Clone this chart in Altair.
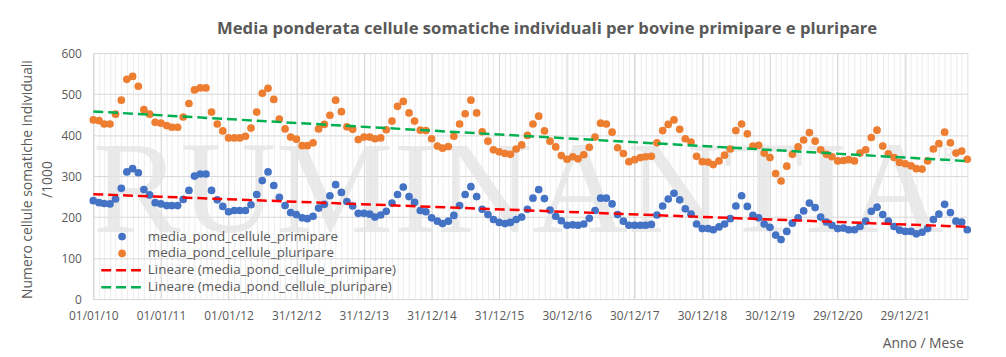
import altair as alt
import numpy as np
import pandas as pd

# ---------------- data ----------------
months = [f"{y}-{m:02d}-01" for y in range(2010, 2023) for m in range(1, 13)]

primipare = [
    240, 235, 233, 232, 244, 270, 310, 318, 308, 267, 254, 235,
    232, 228, 228, 228, 243, 265, 300, 305, 305, 265, 242, 226,
    213, 216, 216, 216, 230, 255, 289, 310, 277, 248, 228, 211,
    206, 198, 196, 202, 222, 231, 252, 279, 260, 238, 227, 209,
    209, 207, 200, 205, 214, 234, 255, 273, 250, 236, 216, 213,
    198, 190, 184, 190, 204, 228, 255, 274, 250, 219, 206, 194,
    187, 184, 187, 194, 200, 219, 246, 267, 245, 217, 202, 191,
    180, 181, 180, 183, 197, 216, 246, 246, 232, 206, 190, 180,
    180, 180, 180, 182, 205, 227, 244, 258, 242, 220, 207, 183,
    172, 172, 169, 176, 183, 196, 227, 252, 226, 204, 198, 183,
    175, 156, 145, 165, 185, 198, 215, 234, 223, 200, 188, 180,
    172, 173, 169, 169, 177, 190, 214, 224, 206, 190, 177, 168,
    165, 165, 159, 163, 172, 194, 207, 231, 211, 190, 188, 169,
]

pluripare = [
    437, 435, 427, 427, 451, 485, 536, 543, 519, 462, 451, 431,
    429, 423, 419, 419, 444, 477, 510, 515, 515, 456, 427, 410,
    393, 393, 393, 397, 417, 456, 502, 514, 487, 439, 415, 395,
    390, 374, 374, 381, 415, 426, 448, 485, 457, 420, 414, 389,
    395, 395, 391, 393, 413, 434, 470, 482, 454, 434, 412, 411,
    391, 373, 368, 372, 397, 427, 452, 485, 454, 408, 385, 364,
    359, 355, 353, 366, 376, 399, 427, 446, 410, 385, 371, 350,
    341, 347, 342, 352, 370, 395, 429, 427, 407, 369, 355, 335,
    340, 345, 347, 348, 381, 411, 426, 437, 414, 391, 383, 348,
    335, 334, 328, 337, 351, 366, 411, 427, 403, 373, 375, 356,
    345, 306, 288, 324, 353, 371, 388, 406, 385, 364, 353, 347,
    337, 338, 340, 337, 356, 364, 394, 412, 373, 354, 345, 333,
    330, 325, 318, 317, 337, 366, 379, 407, 381, 356, 361, 341,
]

tick_dates = ["2010-01-01", "2011-01-01", "2012-01-01", "2012-12-31", "2013-12-31",
              "2014-12-31", "2015-12-31", "2016-12-30", "2017-12-30", "2018-12-30",
              "2019-12-30", "2020-12-29", "2021-12-29"]
y_ticks = [0, 100, 200, 300, 400, 500, 600]

serie_names = ["media_pond_cellule_primipare", "media_pond_cellule_pluripare"]
legend_labels = ["media_pond_cellule_primipare", "media_pond_cellule_pluripare",
                 "Lineare (media_pond_cellule_primipare)",
                 "Lineare (media_pond_cellule_pluripare)"]
legend_kinds = ["point", "point", "line", "line"]

title_text = "Media ponderata cellule somatiche individuali per bovine primipare e pluripare"
y_title = ["Numero cellule somatiche individuali", "/1000"]
x_title = "Anno / Mese"
watermark = ["RUMINANTIA"]
watermark_mark = ["®"]

# ---------------- style ----------------
FONT = "Open Sans"
TXT = "#595959"
BLUE = "#4472C4"
ORANGE = "#ED7D31"
RED = "#FF0000"
GREEN = "#00B050"
W, H = 881, 248


def ms(d):
    return int(pd.Timestamp(d, tz="UTC").value // 10**6)


df = pd.DataFrame({
    "date": months * 2,
    "value": primipare + pluripare,
    "serie": [serie_names[0]] * len(months) + [serie_names[1]] * len(months),
})
leg_df = pd.DataFrame({"label": legend_labels, "kind": legend_kinds})

# linear trend (least squares on the date, as a spreadsheet "linear trendline" does)
day_offsets = np.array([(pd.Timestamp(m) - pd.Timestamp(months[0])).days for m in months], float)
trend_rows = []
for name, vals in zip(serie_names, [primipare, pluripare]):
    slope, intercept = np.polyfit(day_offsets, np.array(vals, float), 1)
    for d, off in [(months[0], day_offsets[0]), (months[-1], day_offsets[-1])]:
        trend_rows.append({"date": d, "value": intercept + slope * off, "serie": name})
trend_df = pd.DataFrame(trend_rows)

xscale = alt.Scale(type="utc", domain=[ms(months[0]), ms(months[-1])], nice=False)
yscale = alt.Scale(domain=[0, 600], nice=False)

minor_axis = alt.Axis(values=[ms(m) for m in months], grid=True, gridColor="#ececec",
                      gridWidth=1, labels=False, ticks=False, domain=False, title=None,
                      orient="bottom")
major_axis = alt.Axis(values=[ms(t) for t in tick_dates],
                      labelExpr="utcFormat(datum.value, '%d/%m/%y')",
                      grid=True, gridColor="#d4d4d4", gridWidth=1, ticks=False, domain=False,
                      labelFont=FONT, labelFontSize=12, labelColor=TXT, labelPadding=12,
                      labelFlush=False, labelOverlap=False,
                      title=x_title, titleFont=FONT, titleFontSize=14, titleFontWeight="normal",
                      titleColor=TXT, titleX=877, titleY=49, titleAlign="right",
                      titleBaseline="alphabetic", orient="bottom")
y_axis = alt.Axis(values=y_ticks, grid=True, gridColor="#d9d9d9", gridWidth=1, ticks=False,
                  domain=False, labelFont=FONT, labelFontSize=12, labelColor=TXT,
                  labelPadding=12, title=y_title, titleFont=FONT, titleFontSize=14,
                  titleFontWeight="normal", titleColor=TXT, titleAngle=270,
                  titleX=-73, titleY=127, titleAlign="center", titleBaseline="top",
                  titleLineHeight=20)

wm = alt.Chart(pd.DataFrame({"t": watermark})).mark_text(
    font="Liberation Serif", fontSize=133, color="#e4e4e4", opacity=0.75,
    align="center", baseline="alphabetic"
).encode(x=alt.value(428), y=alt.value(180), text="t:N")

wm2 = alt.Chart(pd.DataFrame({"t": watermark_mark})).mark_text(
    font="Liberation Serif", fontSize=30, color="#e4e4e4", opacity=0.75,
    align="center", baseline="middle"
).encode(x=alt.value(862), y=alt.value(103), text="t:N")

orange = alt.Chart(df).transform_filter(alt.datum.serie == serie_names[1]).mark_circle(
    size=60, opacity=1, color=ORANGE
).encode(x=alt.X("date:T", scale=xscale, axis=minor_axis),
         y=alt.Y("value:Q", scale=yscale, axis=None))

blue = alt.Chart(df).transform_filter(alt.datum.serie == serie_names[0]).mark_circle(
    size=60, opacity=1, color=BLUE
).encode(x=alt.X("date:T", scale=xscale, axis=major_axis),
         y=alt.Y("value:Q", scale=yscale, axis=y_axis))


def trend(name, color):
    return alt.Chart(trend_df).transform_filter(alt.datum.serie == name).mark_line(
        color=color, strokeDash=[10, 5], strokeWidth=2.5
    ).encode(x=alt.X("date:T", scale=xscale, axis=None),
             y=alt.Y("value:Q", scale=yscale, axis=None))


red_line = trend(serie_names[0], RED)
green_line = trend(serie_names[1], GREEN)

leg_y = alt.Y("label:N", sort=legend_labels,
              scale=alt.Scale(type="point", domain=legend_labels, range=[185, 236], padding=0),
              axis=None)
leg_color = alt.Color("label:N", scale=alt.Scale(domain=legend_labels,
                                                 range=[BLUE, ORANGE, RED, GREEN]), legend=None)

leg_text = alt.Chart(leg_df).mark_text(
    align="left", baseline="middle", font=FONT, fontSize=13.5, color=TXT
).encode(x=alt.value(55), y=leg_y, text="label:N")
leg_pts = alt.Chart(leg_df).transform_filter(alt.datum.kind == "point").mark_circle(
    size=60, opacity=1
).encode(x=alt.value(29), y=leg_y, color=leg_color)
leg_lines = alt.Chart(leg_df).transform_filter(alt.datum.kind == "line").mark_rule(
    strokeDash=[10, 5], strokeWidth=2.5
).encode(x=alt.value(8), x2=alt.value(51), y=leg_y, color=leg_color)

chart = alt.layer(
    wm, wm2, orange, blue, red_line, green_line, leg_lines, leg_pts, leg_text
).resolve_scale(y="independent").resolve_axis(x="independent", y="independent").properties(
    width=W, height=H,
    autosize=alt.AutoSizeParams(type="none"),
    padding={"left": 86, "top": 44, "right": 31, "bottom": 57},
    title=alt.TitleParams(text=title_text, font=FONT, fontSize=16.8, fontWeight="bold",
                          color=TXT, anchor="middle", dx=17, offset=9),
).configure_view(strokeWidth=0).configure(background="white")

chart.save("out.html", embed_options={"renderer": "svg", "actions": False})
